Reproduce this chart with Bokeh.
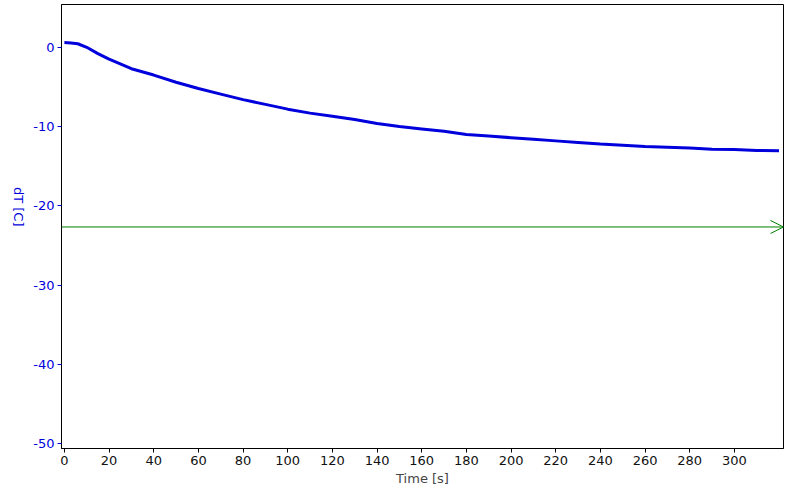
import math
from bokeh.plotting import figure
from bokeh.models import Range1d, Arrow, OpenHead, FixedTicker, CustomJSTickFormatter
from bokeh.embed import file_html
from bokeh.resources import INLINE

time_s = [0, 3, 6, 10, 15, 20, 25, 30, 40, 50, 60, 70, 80, 90, 100, 110, 120, 130,
          140, 150, 160, 170, 180, 190, 200, 210, 220, 230, 240, 250, 260, 270, 280,
          290, 300, 310, 320]
dT = [0.6, 0.55, 0.45, 0.0, -0.8, -1.5, -2.1, -2.7, -3.5, -4.4, -5.2, -5.9, -6.6,
      -7.2, -7.8, -8.3, -8.7, -9.1, -9.6, -10.0, -10.3, -10.6, -11.0, -11.2, -11.4,
      -11.6, -11.8, -12.0, -12.2, -12.35, -12.5, -12.6, -12.7, -12.85, -12.9, -13.0,
      -13.05]
ref_level = -22.66
x_ticks = [0, 20, 40, 60, 80, 100, 120, 140, 160, 180, 200, 220, 240, 260, 280, 300]
y_ticks = [0, -10, -20, -30, -40, -50]
x_lo, x_hi = -1.3, 322
y_lo, y_hi = -50.6, 5.4

FONT = "DejaVu Sans"
BLUE = "#0000dd"

p = figure(width=784, height=488, output_backend="svg", toolbar_location=None,
           x_range=Range1d(x_lo, x_hi), y_range=Range1d(y_lo, y_hi),
           min_border_left=50, min_border_right=1, min_border_top=4,
           min_border_bottom=30)
p.xgrid.visible = False
p.ygrid.visible = False
p.outline_line_color = "black"
p.outline_line_width = 1
p.background_fill_color = "white"
p.border_fill_color = "white"

p.line(time_s, dT, line_color="#0000dd", line_width=3)

p.add_layout(Arrow(end=OpenHead(size=13, line_color="#008000", line_width=1),
                   x_start=x_lo, y_start=ref_level, x_end=x_hi, y_end=ref_level,
                   line_color="#008000", line_width=1))

xa = p.xaxis[0]
xa.ticker = FixedTicker(ticks=x_ticks)
xa.formatter = CustomJSTickFormatter(code="return tick.toString();")
xa.axis_label = "Time [s]"
xa.axis_label_text_font = FONT
xa.axis_label_text_font_style = "normal"
xa.axis_label_text_font_size = "13px"
xa.axis_label_standoff = 3
xa.major_label_text_font = FONT
xa.major_label_text_font_size = "13px"
xa.major_label_text_color = "#111111"
xa.major_label_standoff = 3
xa.major_tick_in = 0
xa.major_tick_out = 4
xa.minor_tick_line_color = None
xa.axis_line_color = "black"

ya = p.yaxis[0]
ya.ticker = FixedTicker(ticks=y_ticks)
ya.formatter = CustomJSTickFormatter(code="return tick.toString();")
ya.major_label_text_font = FONT
ya.major_label_text_font_size = "13px"
ya.major_label_text_color = BLUE
ya.major_label_standoff = 3
ya.major_tick_in = 0
ya.major_tick_out = 4
ya.major_tick_line_color = BLUE
ya.minor_tick_line_color = None
ya.axis_line_color = "black"
ya.axis_label = "dT [C]"
ya.axis_label_text_font = FONT
ya.axis_label_text_font_style = "normal"
ya.axis_label_text_font_size = "13px"
ya.axis_label_text_color = BLUE
ya.axis_label_standoff = 12
try:
    ya.axis_label_orientation = -math.pi / 2
except Exception:
    pass

open("out.html", "w").write(file_html(p, INLINE))
